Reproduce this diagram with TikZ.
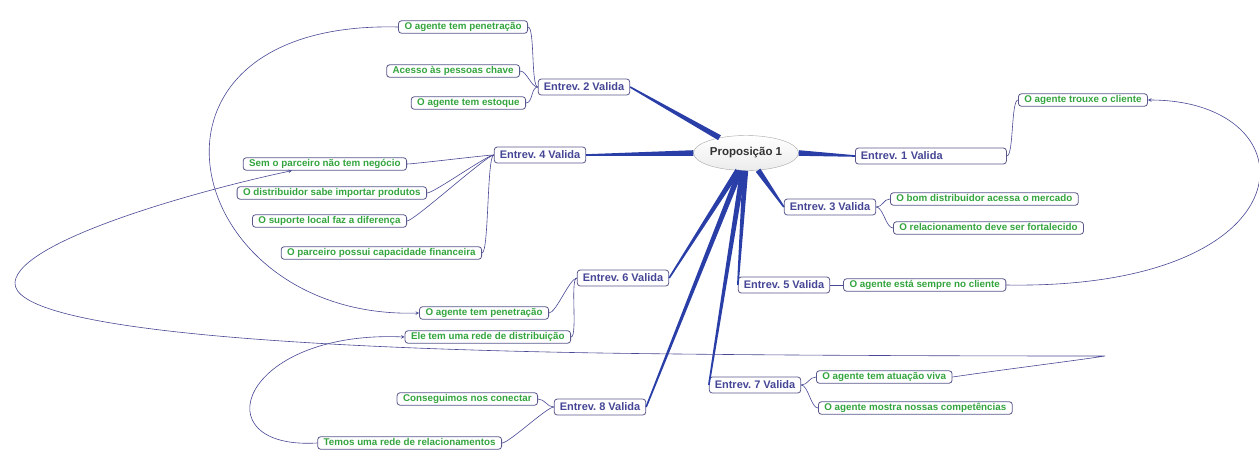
\documentclass[tikz,border=0pt]{standalone}
\usepackage{fontspec}
\setmainfont{Liberation Sans}
\usetikzlibrary{shapes.geometric, positioning, arrows.meta, calc}
\frenchspacing

\definecolor{spokeblue}{RGB}{42,62,168}
\definecolor{twigblue}{RGB}{72,72,150}
\definecolor{boxline}{RGB}{88,88,140}
\definecolor{topictext}{RGB}{70,70,150}
\definecolor{findgreen}{RGB}{52,165,62}

\tikzset{
    hub/.style={
        ellipse, minimum width=92pt, minimum height=35pt, inner sep=1pt, draw=gray!70, top color=white, bottom color=gray!15, text=black!80, font=\fontsize{11.5}{13}\selectfont\bfseries
    },
    interview/.style={
        rectangle, rounded corners=3pt, draw=boxline, line width=0.8pt, fill=white, text=topictext, inner xsep=5.5pt, inner ysep=2.5pt, text height=8.5pt, text depth=2.5pt, font=\fontsize{11}{13}\selectfont\bfseries
    },
    finding/.style={
        rectangle, rounded corners=3pt, draw=boxline, line width=0.8pt, fill=white, text=findgreen, inner xsep=6pt, inner ysep=1.5pt, text height=7.5pt, text depth=2pt, font=\fontsize{9.8}{11}\selectfont\bfseries
    },
    twig/.style={
        draw=twigblue, line width=0.6pt, distance=7pt
    },
    relation/.style={
        draw=twigblue, line width=0.6pt, ->, >=stealth
    }
}

% tapered branch from the centre topic
\newcommand{\drawspoke}[2]{%
    \fill[spokeblue] ($(#1)!2.8pt!90:(#2)$) -- ($(#2)!0.8pt!-90:(#1)$) -- ($(#2)!0.8pt!90:(#1)$) -- ($(#1)!2.8pt!-90:(#2)$) -- cycle;}

\begin{document}
\begin{tikzpicture}[x=1pt, y=-1pt]
        \useasboundingbox[fill=white] (0,0) rectangle (1259,451);

        % Nodes
        \node (hub) [hub] at (746,153) {Proposição 1};

        \node (e1) [interview, anchor=west, text width=140pt, align=left] at (855,156) {Entrev. 1 Valida};
        \node (e2) [interview] at (584,87) {Entrev. 2 Valida};
        \node (e3) [interview] at (830,207) {Entrev. 3 Valida};
        \node (e4) [interview] at (540,155) {Entrev. 4 Valida};
        \node (e5) [interview] at (784,285) {Entrev. 5 Valida};
        \node (e6) [interview] at (623,278) {Entrev. 6 Valida};
        \node (e7) [interview] at (755,385) {Entrev. 7 Valida};
        \node (e8) [interview] at (600,407) {Entrev. 8 Valida};

        \node (trouxe) [finding, anchor=west] at (1018,100) {O agente trouxe o cliente};

        \node (pen1) [finding, anchor=east] at (528,27) {O agente tem penetração};
        \node (acesso) [finding, anchor=east] at (520,71) {Acesso às pessoas chave};
        \node (estoque) [finding, anchor=east] at (526,103) {O agente tem estoque};

        \node (bom) [finding, anchor=west] at (890,199) {O bom distribuidor acessa o mercado};
        \node (relac) [finding, anchor=west] at (893,228) {O relacionamento deve ser fortalecido};

        \node (sem) [finding, anchor=east] at (407,164) {Sem o parceiro não tem negócio};
        \node (distrib) [finding, anchor=east] at (427,193) {O distribuidor sabe importar produtos};
        \node (suporte) [finding, anchor=east] at (407,221) {O suporte local faz a diferença};
        \node (possui) [finding, anchor=east] at (482,253) {O parceiro possui capacidade financeira};

        \node (sempre) [finding, right=13pt of e5] {O agente está sempre no cliente};

        \node (pen2) [finding, anchor=east] at (549,313) {O agente tem penetração};
        \node (ele) [finding, anchor=east] at (571,337) {Ele tem uma rede de distribuição};

        \node (atuacao) [finding, anchor=west] at (816,377) {O agente tem atuação viva};
        \node (mostra) [finding, anchor=west] at (818,408) {O agente mostra nossas competências};

        \node (consig) [finding, anchor=east] at (538,399) {Conseguimos nos conectar};
        \node (temos) [finding, anchor=east] at (502,443) {Temos uma rede de relacionamentos};

        % Branches
        \drawspoke{hub.east}{e1.west}
        \drawspoke{hub.150}{e2.east}
        \drawspoke{hub.-55}{e3.west}
        \drawspoke{hub.west}{e4.east}
        \drawspoke{hub.-92}{e5.west}
        \drawspoke{hub.-115}{e6.east}
        \drawspoke{hub.-100}{e7.west}
        \drawspoke{hub.-108}{e8.east}

        \draw [twig] (e1.east) to[out=0, in=180] (trouxe.west);
        \draw [twig] (e2.west) to[out=180, in=0] (pen1.east);
        \draw [twig] (e2.west) to[out=180, in=0] (acesso.east);
        \draw [twig] (e2.west) to[out=180, in=0] (estoque.east);
        \draw [twig] (e3.east) to[out=0, in=180] (bom.west);
        \draw [twig] (e3.east) to[out=0, in=180] (relac.west);
        \draw [twig] (e4.west) to[out=180, in=0] (sem.east);
        \draw [twig] (e4.west) to[out=180, in=0] (distrib.east);
        \draw [twig] (e4.west) to[out=180, in=0] (suporte.east);
        \draw [twig] (e4.west) to[out=180, in=0] (possui.east);
        \draw [twig] (e5.east) -- (sempre.west);
        \draw [twig] (e6.west) to[out=180, in=0] (pen2.east);
        \draw [twig] (e6.west) to[out=180, in=0] (ele.east);
        \draw [twig] (e7.east) to[out=0, in=180] (atuacao.west);
        \draw [twig] (e7.east) to[out=0, in=180] (mostra.west);
        \draw [twig] (e8.west) to[out=180, in=0] (consig.east);
        \draw [twig] (e8.west) to[out=180, in=0] (temos.east);

        % Arrows
        \draw [relation] (pen1.west) .. controls (110,20) and (180,320) .. (pen2.west);
        \draw [relation] (sempre.east) .. controls (1315,290) and (1315,100) .. (trouxe.east);
        \draw [relation] (temos.west) .. controls (200,450) and (240,330) .. (ele.west);
        \draw [relation] (atuacao.east) .. controls (1000,370) and (1080,360) .. (1105,356)
            .. controls (1060,356) and (800,356) .. (600,353)
            .. controls (300,348) and (10,330) .. (15,282)
            .. controls (20,240) and (200,190) .. ([xshift=-33pt]sem.south);
\end{tikzpicture}
\end{document}
